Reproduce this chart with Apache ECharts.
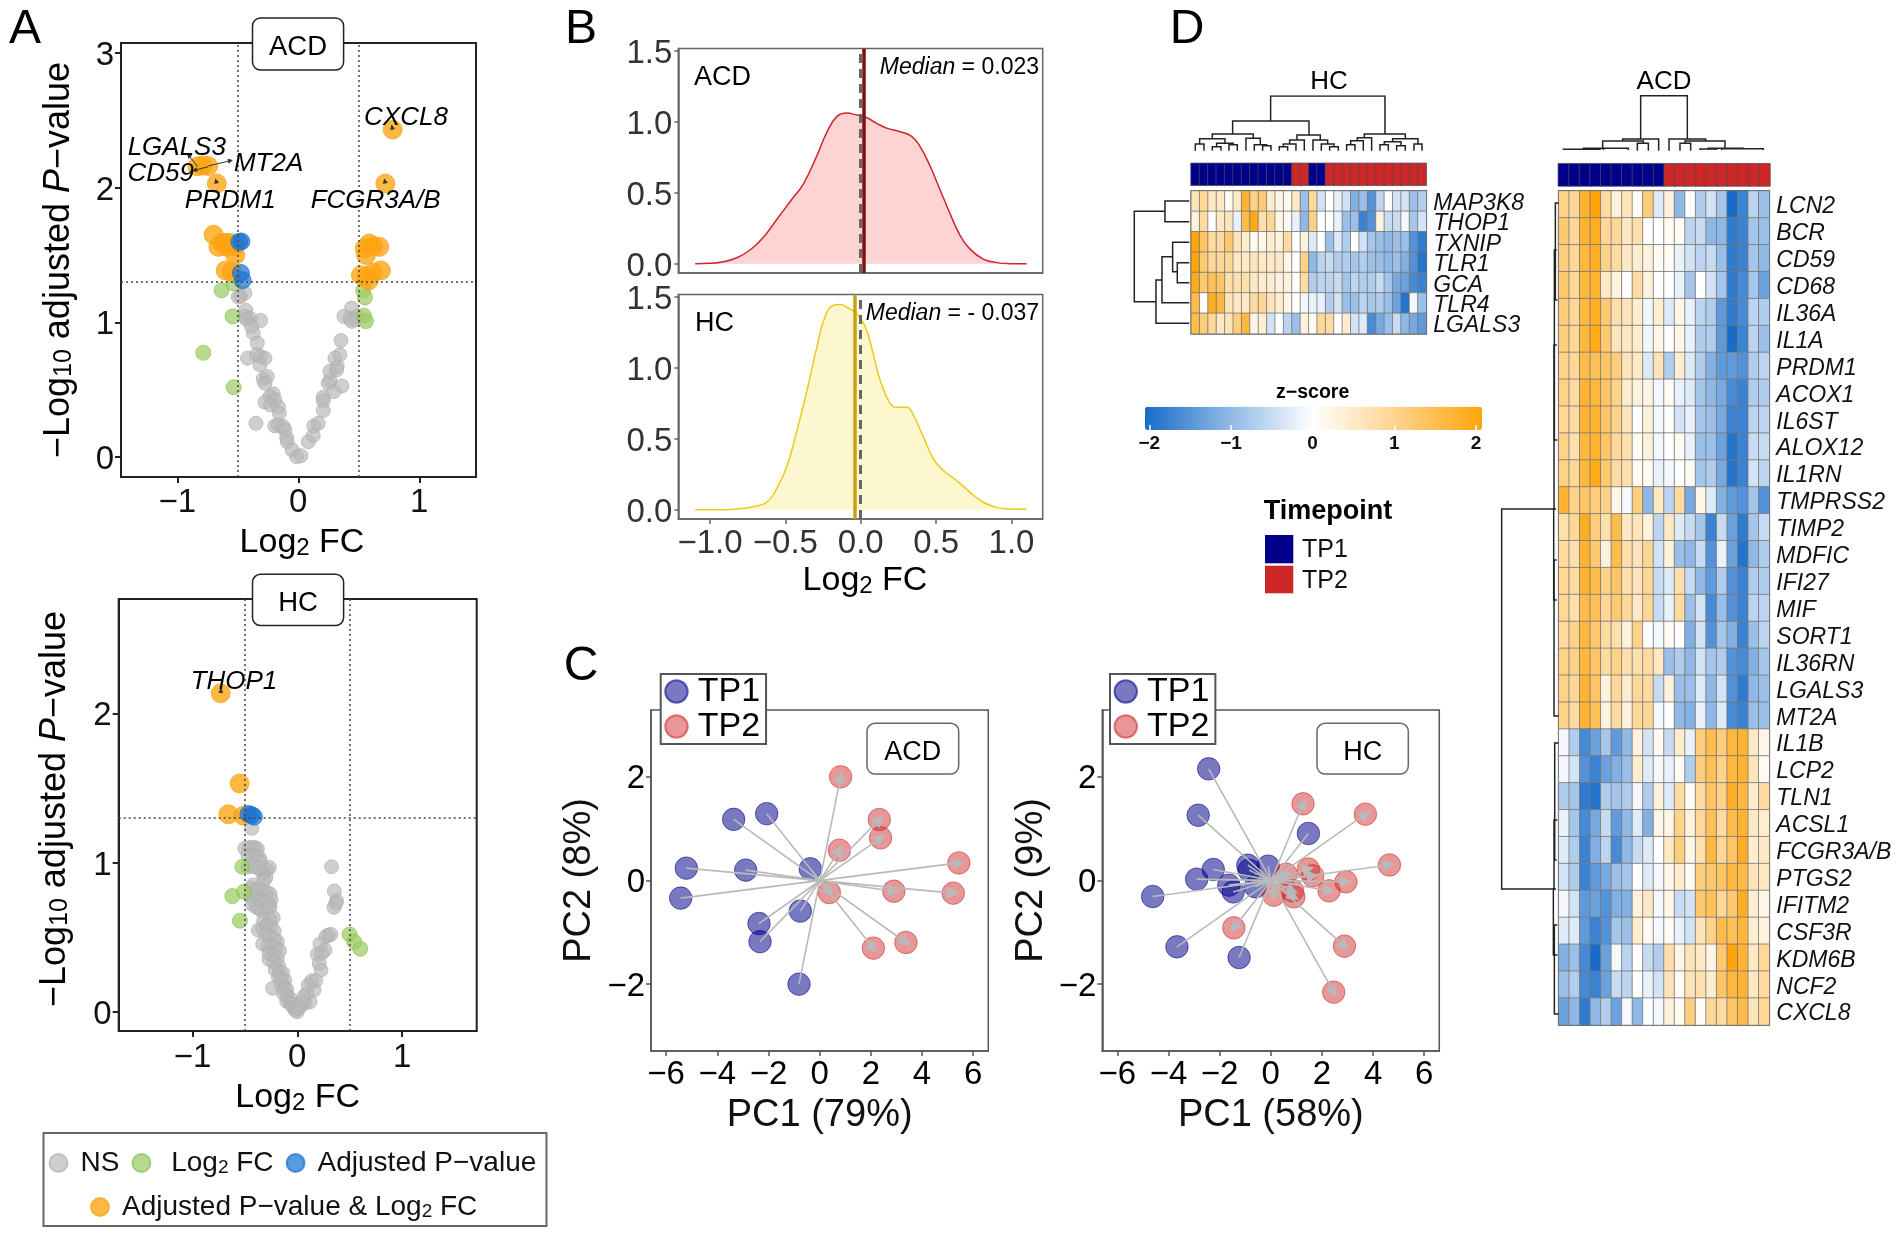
<!DOCTYPE html>
<html><head><meta charset="utf-8">
<style>html,body{margin:0;padding:0;background:#fff}#c{width:1902px;height:1239px}</style>
<script src="https://cdn.jsdelivr.net/npm/echarts@6/dist/echarts.min.js"></script>
</head><body><div id="c"></div>
<script>
// ---------- Panel A: volcano data [log2FC, -log10 adj P]
const a1Grey=[[-.477,1.193],[-.441,1.217],[-.496,1.188],[-.433,1.089],[-.40,1.03],[-.427,1.02],[-.44,1.044],[-.311,1.014],[-.372,.92],[-.386,.97],[-.339,.846],[-.419,.734],[-.344,.759],[-.311,.746],[-.275,.734],[-.317,.684],[-.289,.578],[-.256,.598],[-.275,.548],[-.207,.469],[-.234,.449],[-.275,.407],[-.229,.387],[-.193,.424],[-.165,.374],[-.157,.325],[-.193,.231],[-.165,.238],[-.124,.226],[-.11,.2],[-.096,.144],[-.091,.114],[-.05,.052],[-.014,.002],[.022,.01],[-.35,.25],[.083,.114],[.124,.159],[.129,.231],[.165,.25],[.207,.345],[.207,.417],[.207,.444],[.262,.568],[.248,.548],[.295,.486],[.361,.528],[.262,.635],[.317,.647],[.322,.672],[.303,.734],[.344,.759],[.353,.865],[.377,1.044],[.441,1.106],[.427,1.031],[.468,1.019],[.488,1.044],[.441,1.007]];
const a1Green=[[-.634,1.237],[-.537,1.29],[-.543,1.044],[-.785,.774],[-.534,.518],[.537,1.237],[.551,1.185],[.543,1.049],[.559,1.009]];
const a1Blue=[[-.488,1.597],[-.47,1.6],[-.474,1.366],[-.46,1.312]];
const a1Orange=[[.78,2.43],[.72,2.03],[-.673,2.03],[-.833,2.157],[-.745,2.16],[-.79,2.165],[-.70,1.65],[-.63,1.59],[-.66,1.56],[-.61,1.59],[-.565,1.59],[-.53,1.565],[-.52,1.50],[-.59,1.56],[-.60,1.385],[-.55,1.375],[.587,1.585],[.55,1.55],[.56,1.50],[.67,1.56],[.62,1.565],[.518,1.35],[.58,1.31],[.62,1.37],[.683,1.385],[.565,1.34]];
const a1Genes=[['CXCL8',.89,2.54],['LGALS3',-1.004,2.32],['CD59',-1.137,2.123],['MT2A',-.245,2.2],['PRDM1',-.563,1.924],['FCGR3A/B',.64,1.924]];
const a1Pointers=[[-.833,2.157,-.906,2.24],[-.745,2.16,-.56,2.2],[-.745,2.155,-.857,2.128],[.78,2.43,.775,2.45],[.72,2.03,.715,2.05],[-.673,2.03,-.68,2.05]];
const a2Grey=[[-.435,1.229],[.327,.972],[.353,.809],[.375,.744],[.35,.70],[.369,.726],[.296,.514],[.273,.503],[.321,.518],[.216,.454],[.264,.413],[.191,.384],[.232,.391],[.21,.324],[.226,.279],[.137,.206],[.175,.208],[.159,.145],[.121,.067],[.089,.123],[.073,.056],[.105,.179],[-.5,1.095],[-.46,1.1],[-.43,1.1],[-.40,1.1],[-.38,1.09],[-.47,1.05],[-.43,1.05],[-.39,1.04],[-.36,1.03],[-.35,1.0],[-.267,.967],[-.29,.95],[-.47,.97],[-.44,.98],[-.40,.97],[-.36,.96],[-.33,.93],[-.30,.90],[-.32,.88],[-.44,.83],[-.42,.85],[-.40,.82],[-.36,.82],[-.33,.81],[-.29,.80],[-.26,.79],[-.25,.75],[-.45,.78],[-.42,.75],[-.38,.76],[-.35,.74],[-.31,.73],[-.27,.72],[-.43,.72],[-.39,.70],[-.36,.69],[-.33,.67],[-.29,.68],[-.26,.70],[-.26,.62],[-.23,.63],[-.32,.61],[-.372,.547],[-.33,.56],[-.29,.58],[-.25,.57],[-.22,.54],[-.30,.52],[-.26,.50],[-.22,.49],[-.19,.47],[-.33,.454],[-.28,.44],[-.24,.44],[-.20,.43],[-.17,.41],[-.27,.39],[-.23,.38],[-.19,.36],[-.267,.35],[-.22,.33],[-.18,.31],[-.21,.28],[-.17,.27],[-.14,.26],[-.18,.23],[-.15,.22],[-.12,.21],[-.235,.157],[-.15,.17],[-.12,.16],[-.10,.15],[-.13,.12],[-.10,.11],[-.07,.09],[-.10,.07],[-.07,.06],[-.05,.05],[-.04,.03],[-.02,.01],[0,0],[.01,.02],[.03,.04],[.05,.07],[.06,.1]];
const a2Green=[[-.524,.972],[-.62,.775],[-.509,.804],[-.547,.61],[.499,.518],[.544,.467],[.601,.422]];
const a2Blue=[[-.467,1.325],[-.435,1.318],[-.413,1.307]];
const a2Orange=[[-.731,2.134],[-.55,1.53],[-.658,1.323],[-.515,1.314]];
const a2Genes=[['THOP1',-.604,2.234]];
const a2Pointers=[[-.731,2.134,-.728,2.155]];
const fcTicksA=[-1,0,1], padjTicks1=[0,1,2,3], padjTicks2=[0,1,2];
const fcCut=[-.5,.5], padjCut=1.3;
// ---------- Panel B: density
const acdDensity=[[-1.098,0],[-1,.003],[-.91,.014],[-.822,.042],[-.734,.097],[-.645,.187],[-.557,.312],[-.469,.437],[-.38,.563],[-.292,.758],[-.225,.925],[-.159,1.036],[-.093,1.061],[-.027,1.047],[.04,1.028],[.106,.989],[.172,.955],[.261,.93],[.338,.897],[.393,.827],[.46,.688],[.526,.521],[.592,.354],[.659,.2],[.725,.103],[.813,.033],[.902,.008],[.99,.001],[1.1,0]];
const hcDensity=[[-1.098,0],[-.955,0],[-.822,.006],[-.712,.022],[-.623,.053],[-.557,.15],[-.49,.304],[-.424,.554],[-.358,.833],[-.292,1.14],[-.236,1.362],[-.181,1.44],[-.137,1.446],[-.093,1.426],[-.027,1.382],[.029,1.292],[.073,1.139],[.128,.916],[.194,.749],[.239,.721],[.305,.721],[.349,.666],[.415,.513],[.482,.359],[.548,.276],[.636,.206],[.725,.123],[.813,.053],[.902,.017],[.99,.006],[1.1,.003]];
const acdMedian=.023, hcMedian=-.037;
const densTicksX=[-1,-.5,0,.5,1], densTicksY=[0,.5,1,1.5];
// ---------- Panel C: PCA
const pcaAcdTp1=[[-5.43,-.34],[-5.21,.238],[-3.36,1.18],[-2.07,1.29],[-2.89,.2],[-.365,.225],[-.755,-.59],[-2.37,-.83],[-2.33,-1.18],[-.807,-2]];
const pcaAcdTp2=[[5.44,.34],[5.22,-.244],[3.37,-1.196],[2.1,-1.305],[2.9,-.206],[.378,-.232],[.77,.585],[2.38,.823],[2.33,1.177],[.82,2]];
const pcaHcTp1=[[-2.43,2.154],[-2.84,1.26],[1.47,.907],[-2.25,.212],[-2.9,.026],[-4.62,-.309],[-3.67,-1.28],[-1.24,-1.486],[-.9,.296],[-.104,.277],[-1.64,-.09],[-1.47,-.22],[-.6,-.12],[-.85,.2]];
const pcaHcTp2=[[2.46,-2.154],[2.88,-1.267],[-1.445,-.913],[2.28,-.2],[2.94,-.026],[4.64,.30],[3.7,1.28],[1.26,1.48],[.9,-.315],[.117,-.283],[1.64,.09],[1.47,.22],[.6,.12],[.85,-.2]];
const pc1Ticks=[-6,-4,-2,0,2,4,6], pc2Ticks=[-2,0,2];
// ---------- Panel D: heatmaps
const hcGenes=['MAP3K8','THOP1','TXNIP','TLR1','GCA','TLR4','LGALS3'];
const hcZ=[
[.6,.9,.5,.5,.1,.5,1.7,1,1.2,.4,.2,.1,.5,-.9,.9,-.4,0,-.2,-.4,-1.1,-.9,-1.5,-.6,0,-.4,-.4,-.9,-.7],
[.3,.8,0,.5,.6,-.2,1.5,1.9,.7,.9,.2,.1,-.2,-1,1,0,0,-.2,-.9,-.9,-1.7,-1.5,.3,-.5,-.5,-.1,-.8,-.4],
[2,1.3,.8,.8,1.2,.6,.4,.1,.2,.4,.3,.8,0,.3,-.3,0,-.9,-.3,-.7,0,-.4,-.8,-.9,-1,-.9,-.9,-1.5,-1.8],
[2,1.2,.9,.9,.9,.5,.5,.6,.5,.5,.5,.2,0,1,-1,-.6,-.5,-.7,-.7,-.8,-.7,-.9,-.9,-1,-.9,-1.1,-1.5,-1.9],
[1.9,1.2,1.4,1.3,.7,.7,.7,.5,.4,.4,.3,.3,0,.8,-.7,-.6,-.6,-.5,-.8,-.6,-.7,-.7,-.5,-.8,-1.2,-1.3,-1.6,-1.7],
[1.5,.1,1.8,1.6,.6,.5,.5,.8,.9,.6,.4,.2,0,-.1,-.2,-.2,-.7,-.4,-.9,-.9,-.6,-.8,-.7,-.9,-1.3,-1.9,-.1,-.9],
[1.5,1.1,.9,.5,.6,1.1,1.6,.2,.4,-.4,0,-.6,-.9,.3,.1,.9,.8,0,.4,-.4,-.3,-1.6,-1.2,-.9,-.5,-1,-1.2,-1.4]];
const hcTimepoint=[1,1,1,1,1,1,1,1,1,1,1,1,2,2,1,1,2,2,2,2,2,2,2,2,2,2,2,2];
const acdGenes=['LCN2','BCR','CD59','CD68','IL36A','IL1A','PRDM1','ACOX1','IL6ST','ALOX12','IL1RN','TMPRSS2','TIMP2','MDFIC','IFI27','MIF','SORT1','IL36RN','LGALS3','MT2A','IL1B','LCP2','TLN1','ACSL1','FCGR3A/B','PTGS2','IFITM2','CSF3R','KDM6B','NCF2','CXCL8'];
const acdZ=[
[1,.9,1.7,2,.8,.3,.6,.1,1.1,-.3,.3,-1,0,-.7,-.4,-.8,-2,-1.7,-.6,-.9],
[1.2,.9,1.7,1.8,.9,.9,.5,.7,0,0,.1,.1,-.6,-.5,-1,-1,-1.8,-1.7,-.8,-.9],
[1.1,.9,1.6,1.8,1,.8,.5,.4,.3,.1,.1,-.2,-.4,-.6,-.5,-.9,-1.8,-1.7,-.8,-1],
[1.2,.9,1.6,1.7,.5,.3,0,.8,.3,0,0,-.2,-.8,0,-.4,-.8,-1.8,-1.6,-.8,-1.3],
[1.1,.9,1.6,1.8,1.2,.7,.6,.4,-.1,.4,-.3,.2,-.2,-.6,-.7,-1.4,-1.8,-1.6,-.6,-.7],
[1.1,.9,1.6,1.9,1.2,.6,.5,.4,-.1,.2,0,.2,-.2,-.7,-.7,-1.4,-2,-1.7,-.6,-.9],
[1,.9,1.5,1.4,1.3,1.1,.6,.5,-.3,.6,-.7,.4,-.3,-.7,-1.1,-1.4,-1.4,-1.5,-.7,-.6],
[1,.8,1.7,1.6,1.3,1,.4,.3,.2,-.1,.1,-.2,-.3,-.8,-1,-1.2,-1.6,-1.7,-.7,-.7],
[.9,.8,1.7,1.7,1.3,1,.6,0,.3,-.1,0,-.4,-.2,-.8,-.9,-1.2,-1.7,-1.7,-.6,-.6],
[1,.7,1.6,1.7,1.3,.9,.7,.1,.3,-.1,0,.1,-.2,-.9,-.9,-1.3,-1.9,-1.7,-.5,-.5],
[1,.9,1.6,1.9,1.2,.8,.7,.1,.1,-.2,-.1,0,.1,-.8,-.7,-1.2,-1.9,-1.7,-.4,-.6],
[1.7,1,1.3,1.1,1,.2,-.1,1.1,-1,.5,-.6,.8,-1.2,.2,-.3,-1.1,-1.4,-1.5,-.8,-1.5],
[.7,.9,1.8,1.1,.7,1.5,.5,.6,.3,-.6,.5,-.3,-.5,-.8,-1.7,-.5,-1.3,-1.8,-.8,-.5],
[.8,.7,1.7,1.2,.3,1.5,.7,.6,.9,-.4,.3,-.9,-1,-.5,-1.5,-.2,-1.3,-1.9,-1,-.7],
[.9,.8,1.7,1.5,1,1.3,.7,.6,.9,-.5,-.3,.7,-.5,-1,-1.4,-.7,-1.5,-1.7,-.7,-.7],
[.9,.7,1.5,1.4,.9,1.2,.9,.5,.9,-.5,-.2,.8,-.9,-.4,-1.6,-.9,-1.5,-1.7,-.6,-.6],
[.8,1,1.6,1.2,.8,.7,.3,1,0,-.1,.1,0,-1.1,-.4,-1.5,-.8,-1.1,-1.7,-.9,-.6],
[1,1,1.6,1.3,.8,1,.7,.7,.8,.5,-.9,-.7,-1,-.4,-.8,-.7,-1.5,-1.6,-1.1,-.8],
[1,.9,1.7,1.3,.3,.9,.4,.9,.8,-.5,.3,-.9,-.9,-.3,-1,-.4,-1.5,-1.8,-1,-.9],
[1,.8,1.7,1.4,.3,.8,.3,.9,.9,-.1,0,-1,-1.1,-.2,-1,-.3,-1.6,-1.7,-.9,-.9],
[-.1,-.7,-1.6,-1.3,-.8,-1.4,-1,.3,-.4,.1,-.5,.4,-.2,1.1,1.5,1.1,1.6,1.7,.5,.2],
[-.1,-.4,-1.5,-1.7,-1.3,-1.1,-.9,.4,-.3,-.1,-.2,.1,-.7,1.1,1.4,1,1.6,1.7,.6,.1],
[-.7,-.8,-1.8,-1.9,-.7,-.8,-.7,-.1,-.7,.3,-.3,.8,.1,.8,1.3,1,1.8,1.6,.4,.8],
[-.2,-.8,-1.6,-1.2,-.5,-1.4,-1,-.3,-1.1,.2,.2,1,.3,.9,1.4,.8,1.5,1.7,.5,.4],
[-.3,-.7,-1.7,-1.1,-.6,-1.6,-1,-.5,-.3,0,.5,1.1,.2,.7,1.6,.9,1.3,1.8,.4,.5],
[-.4,-.7,-1.7,-1.4,-1.2,-.9,-.8,0,-.3,-.1,.2,.4,.1,1.1,1.2,1.3,1.6,1.5,.6,.5],
[-.1,-.4,-1.4,-1.3,-1.5,-1.1,-1.1,.3,.5,-.1,.2,-.5,-.4,1.2,1.4,.9,1.2,1.8,.4,.2],
[-.3,-.3,-1.4,-1.7,-1.5,-.8,-.9,.4,.1,-.1,.1,-.2,-.4,.6,1,1.5,1.4,1.6,.4,.3],
[-1.1,-.9,-1.6,-2,-1.3,-.1,-.6,0,-.5,-.7,.7,.2,.6,.5,.2,1.2,2,1.7,.5,.9],
[-.9,-.7,-1.6,-1.7,-1.3,-.5,-.6,0,-.2,-.4,.6,.1,.6,.7,.4,1.3,1.6,1.7,.5,.8],
[-1.3,-1,-1.8,-1,-.7,-1.3,-.1,-1,0,-.1,.3,.1,1.1,.1,.9,.8,1.3,1.5,.6,.9]];
const acdTimepoint=[1,1,1,1,1,1,1,1,1,1,2,2,2,2,2,2,2,2,2,2];
// dendrogram merges: [posA, posB, top, bottomA, bottomB]
const hcColTree=[[452,795,288,363,402],[338,567,363,402,405],[277,400,402,416,415],[226,252,432,452,452],[277,303,440,452,452],[327,352,434,452,452],[290,340,430,440,434],[239,315,416,432,430],[428,453,437,452,452],[403,440,434,452,437],[378,421,415,452,434],[478,503,440,452,452],[490,528,432,440,452],[509,553,420,432,452],[629,655,440,452,452],[604,642,432,452,440],[579,623,420,452,432],[531,601,405,420,420],[680,705,434,452,452],[692,730,422,434,452],[712,755,413,422,452],[780,805,434,452,452],[830,856,437,452,452],[793,843,425,434,437],[882,906,432,452,452],[818,894,416,425,432],[733,856,402,413,416]];
const hcRowTree=[[634,905,43,135,108],[603,665,135,208,208],[840,970,108,126,208],[770,908,126,158,208],[727,815,158,208,172],[788,848,172,208,208]];
const acdColTree=[[422,562,107,237,237],[368,476,237,243,272],[308,430,243,265,250],[412,445,250,272,272],[507,617,237,272,243],[555,675,243,250,265],[540,572,250,272,272],[190,300,268,270,266],[250,310,265,270,268],[310,385,265,270,270],[600,650,267,270,270],[625,730,265,270,268],[665,790,266,270,270]];
const acdRowTree=[[509,889,5,160,160],[203,300,166,176,172],[250,440,163,170,172],[345,509,162,170,164],[509,600,161,168,170],[560,716,162,170,176],[743,860,164,176,170],[820,889,162,172,165],[889,955,160,168,172],[925,1014,163,172,176]];
const zTicks=[-2,-1,0,1,2];

const FONT='"Liberation Sans",Arial,sans-serif';
const minus=s=>String(s).replace('-','\u2212');
const grid=[],xAxis=[],yAxis=[],series=[],graphic=[];

function addGrid(g,x,y){grid.push(g);const i=grid.length-1;xAxis.push(Object.assign({gridIndex:i},x));yAxis.push(Object.assign({gridIndex:i},y));return i;}
const subRich=(fs,ss)=>({n:{fontSize:fs,color:'#000',fontFamily:FONT},s:{fontSize:ss,color:'#000',fontFamily:FONT,padding:[Math.round(fs*.3),0,0,0]},i:{fontSize:fs,color:'#000',fontFamily:FONT,fontStyle:'italic'}});
function contAxis(o){
  const lab={show:o.ticks!==false&&!o.noLabel,customValues:o.ticks||[],fontSize:o.fs,color:o.col,margin:o.margin,fontFamily:FONT};
  if(o.pad){lab.formatter=v=>'{a|'+minus(o.fmt?o.fmt(v):v)+'}';lab.rich={a:{fontSize:o.fs,color:o.col,fontFamily:FONT,padding:[o.pad,0,0,0]}};}
  else lab.formatter=v=>minus(o.fmt?o.fmt(v):v);
  return {type:'value',min:o.min,max:o.max,splitLine:{show:false},
    axisLine:{show:true,onZero:false,lineStyle:{color:o.line,width:o.lw}},
    axisTick:{show:o.ticks!==false,length:o.tl||6,customValues:o.ticks||[],lineStyle:{color:o.line,width:o.lw}},
    axisLabel:lab,
    name:o.name,nameLocation:'middle',nameGap:o.nameGap,nameMoveOverlap:false,nameTextStyle:o.nameStyle||{}};
}
// ---- Panel A
function volcano(rect,xr,yr,yt,grey,green,blue,orange,genes,pointers,yGap,xGap,xMargin,xShift,yShift){
  const i=addGrid(Object.assign({show:true,borderColor:'#222',borderWidth:2,backgroundColor:'transparent'},rect),
   contAxis({min:xr[0],max:xr[1],ticks:fcTicksA,line:'#222',lw:2,fs:33,col:'#111',margin:xMargin,name:'{n|Log}{s|2}{n| FC}',nameGap:xGap,nameStyle:{rich:subRich(34,24),padding:[0,0,0,xShift]}}),
   contAxis({min:yr[0],max:yr[1],ticks:yt,line:'#222',lw:2,fs:33,col:'#111',margin:7,pad:6,name:'{n|\u2212Log}{s|10}{n| adjusted }{i|P}{n|\u2212value}',nameGap:yGap,nameStyle:{rich:subRich(36,25),padding:[0,0,0,yShift]}}));
  const base={type:'scatter',xAxisIndex:i,yAxisIndex:i,silent:true};
  const sty=(c,b,o)=>({color:c,borderColor:b,borderWidth:1,opacity:o});
  series.push(Object.assign({},base,{name:'NS',data:grey,symbolSize:14,itemStyle:sty('#b8b8b8','#adadad',.68),z:2,
    markLine:{silent:true,symbol:'none',label:{show:false},animation:false,lineStyle:{color:'#444',type:[2,3],width:1.5},
      data:fcCut.map(v=>({xAxis:v})).concat([{yAxis:padjCut}])}}));
  series.push(Object.assign({},base,{name:'Log2 FC',data:green,symbolSize:15,itemStyle:sty('#9ccc65','#8cbf55',.72),z:3}));
  series.push(Object.assign({},base,{name:'Adjusted P\u2212value',data:blue,symbolSize:17,itemStyle:sty('#1a73d1','#1a73d1',.72),z:4}));
  series.push(Object.assign({},base,{name:'Adjusted P\u2212value & Log2 FC',data:orange,symbolSize:19,itemStyle:sty('#ffa40f','#f5a623',.78),z:3}));
  series.push({type:'lines',coordinateSystem:'cartesian2d',xAxisIndex:i,yAxisIndex:i,silent:true,symbol:['none','triangle'],symbolSize:5,z:6,
    lineStyle:{color:'#333',width:1,opacity:1},data:pointers.map(p=>({coords:[[p[0],p[1]],[p[2],p[3]]]}))});
  series.push({type:'scatter',name:'gene labels',xAxisIndex:i,yAxisIndex:i,silent:true,symbolSize:1,itemStyle:{color:'transparent'},z:7,
    label:{show:true,position:'inside',formatter:'{b}',offset:[0,3],fontSize:26,fontStyle:'italic',color:'#000',opacity:1,fontFamily:FONT},
    data:genes.map(g=>({name:g[0],value:[g[1],g[2]]}))});
}
volcano({left:121,top:43,width:355,height:434},[-1.465,1.469],[-.148,3.073],padjTicks1,a1Grey,a1Green,a1Blue,a1Orange,a1Genes,a1Pointers,44,49,9,7,0);
volcano({left:118.7,top:599,width:358,height:432},[-1.704,1.712],[-.129,2.766],padjTicks2,a2Grey,a2Green,a2Blue,a2Orange,a2Genes,a2Pointers,46,50,10,0,12);
// ---- Panel B
function density(rect,yr,d,lc,fc,med,medCol,showX){
  const i=addGrid(Object.assign({show:true,borderColor:'#666',borderWidth:1.5,backgroundColor:'transparent'},rect),
   contAxis({min:-1.21,max:1.207,ticks:showX?densTicksX:[],noLabel:!showX,line:'#666',lw:1.5,fs:33,col:'#333',margin:8,fmt:v=>v.toFixed(1),tl:5,
     name:showX?'{n|Log}{s|2}{n| FC}':'',nameGap:45,nameStyle:{rich:subRich(34,24),padding:[0,0,0,9]}}),
   contAxis({min:yr[0],max:yr[1],ticks:densTicksY,line:'#666',lw:1.5,fs:33,col:'#333',margin:6,pad:6,fmt:v=>v.toFixed(1),tl:4}));
  series.push({type:'line',xAxisIndex:i,yAxisIndex:i,data:d,smooth:.45,showSymbol:false,silent:true,lineStyle:{color:lc,width:1.5},areaStyle:{color:fc,opacity:1},z:2,
    markLine:{silent:true,symbol:'none',label:{show:false},animation:false,data:[
      {xAxis:0,lineStyle:{color:'#666',type:[9,6],width:3}},
      {xAxis:med,lineStyle:{color:medCol,type:'solid',width:3.5}}]}});
}
density({left:678.3,top:48.6,width:364.4,height:224.4},[-.065,1.515],acdDensity,'#d0242a','#fdd3d3',acdMedian,'#7b1315',false);
density({left:678.3,top:294.6,width:364.4,height:224.4},[-.065,1.515],hcDensity,'#f0c916','#fdf7cf',hcMedian,'#c5a414',true);
// ---- Panel C
function pca(rect,tp1,tp2,name,yGap){
  const i=addGrid(Object.assign({show:true,borderColor:'#555',borderWidth:1.5,backgroundColor:'transparent'},rect),
   contAxis({min:-6.59,max:6.59,ticks:pc1Ticks,line:'#555',lw:1.5,fs:33,col:'#000',margin:7,tl:5,name:name[0],nameGap:46,nameStyle:{fontSize:38,color:'#111',fontFamily:FONT,verticalAlign:'top'}}),
   contAxis({min:-3.29,max:3.29,ticks:pc2Ticks,line:'#555',lw:1.5,fs:33,col:'#000',margin:6,pad:5,tl:5,name:name[1],nameGap:yGap,nameStyle:{fontSize:38,color:'#111',fontFamily:FONT}}));
  const base={type:'scatter',xAxisIndex:i,yAxisIndex:i,silent:true,symbolSize:22.5};
  series.push(Object.assign({},base,{name:'TP1',data:tp1,itemStyle:{color:'rgba(0,0,139,.66)',borderColor:'rgba(0,0,139,.7)',borderWidth:1},z:2}));
  series.push(Object.assign({},base,{name:'TP2',data:tp2,itemStyle:{color:'rgba(205,38,38,.6)',borderColor:'rgba(205,38,38,.7)',borderWidth:1},z:2}));
  // arrows: each sample's TP1 point towards its TP2 point
  const pairs=tp1.map(p=>{let best=tp2[0],bd=1e9;tp2.forEach(q=>{const d=Math.hypot(p[0]+q[0],p[1]+q[1]);if(d<bd){bd=d;best=q;}});return [p,best];});
  series.push({type:'lines',coordinateSystem:'cartesian2d',xAxisIndex:i,yAxisIndex:i,silent:true,symbol:['none','triangle'],symbolSize:12,z:3,
    lineStyle:{color:'#b9b9b9',width:1.6,opacity:1},data:pairs.map(p=>({coords:[p[0],p[1]]}))});
}
pca({left:651,top:710,width:337.3,height:341},pcaAcdTp1,pcaAcdTp2,['PC1 (79%)','PC2 (8%)'],52);
pca({left:1102.3,top:710,width:337,height:341},pcaHcTp1,pcaHcTp2,['PC1 (58%)','PC2 (9%)'],52);
// ---- Panel D
const heatIdx=[],annoIdx=[];
function heat(rect,z,genes){
  const cols=z[0].map((_,j)=>j);
  const i=addGrid(Object.assign({show:true,borderColor:'#222',borderWidth:1.5,backgroundColor:'transparent'},rect),
   {type:'category',data:cols,show:false,boundaryGap:true},
   {type:'category',data:genes,inverse:true,position:'right',boundaryGap:true,axisLine:{show:false},axisTick:{show:false},
    axisLabel:{interval:0,margin:7,fontSize:23,fontFamily:FONT,formatter:'{a|{value}}',rich:{a:{fontSize:23,fontStyle:'italic',color:'#111',fontFamily:FONT,padding:[5,0,0,0]}}}});
  const data=[];z.forEach((r,y)=>r.forEach((v,x)=>data.push([x,y,v])));
  series.push({type:'heatmap',xAxisIndex:i,yAxisIndex:i,data,silent:true,itemStyle:{borderColor:'#777',borderWidth:.8},emphasis:{disabled:true},progressive:0});
  heatIdx.push(series.length-1);
}
function anno(rect,tp){
  const i=addGrid(Object.assign({show:false},rect),{type:'category',data:tp.map((_,j)=>j),show:false},{type:'category',data:['tp'],show:false});
  series.push({type:'heatmap',xAxisIndex:i,yAxisIndex:i,data:tp.map((v,x)=>[x,0,v]),silent:true,itemStyle:{borderColor:'#4a4a5a',borderWidth:.7},emphasis:{disabled:true},progressive:0});
  annoIdx.push(series.length-1);
}
function tree(rect,xr,yr,merges,horizontal){
  const i=addGrid(Object.assign({show:false},rect),{type:'value',min:xr[0],max:xr[1],show:false},{type:'value',min:yr[0],max:yr[1],inverse:true,show:false});
  const data=merges.map(m=>{const [a,b,t,ba,bb]=m;
    return {coords:horizontal?[[ba,a],[t,a],[t,b],[bb,b]]:[[a,ba],[a,t],[b,t],[b,bb]]};});
  series.push({type:'lines',coordinateSystem:'cartesian2d',polyline:true,xAxisIndex:i,yAxisIndex:i,silent:true,lineStyle:{color:'#222',width:1.5,opacity:1},data});
}
heat({left:1191.3,top:191,width:235,height:142.7},hcZ,hcGenes);
anno({left:1191,top:163.3,width:235.3,height:22},hcTimepoint);
tree({left:1191.3,top:96,width:235,height:54.7},[214,919],[288,452],hcColTree,false);
tree({left:1134.3,top:191,width:55,height:142.7},[43,208],[573,1001],hcRowTree,true);
heat({left:1558.7,top:191,width:210.6,height:834},acdZ,acdGenes);
anno({left:1558.3,top:163.7,width:211.7,height:22.3},acdTimepoint);
tree({left:1558.7,top:95.7,width:210.6,height:55},[176,808],[107,272],acdColTree,false);
tree({left:1500,top:191,width:58.7,height:834},[0,176],[191,1025],acdRowTree,true);
// colour bar axis
const cbI=addGrid({left:1145,top:406.7,width:337,height:23.3,show:false},
  {type:'value',min:-2.053,max:2.074,z:10,axisLine:{show:false},splitLine:{show:false},axisTick:{show:true,inside:true,length:5,customValues:zTicks,lineStyle:{color:'#fff',width:1.5}},
   axisLabel:{customValues:zTicks,fontSize:19,fontWeight:'bold',color:'#111',margin:4,fontFamily:FONT,formatter:v=>minus(v)}},
  {type:'value',min:0,max:1,show:false});
// text and decorations
const T=(x,y,text,fs,o)=>graphic.push({type:'text',x,y:y+2.5,z:20,silent:true,style:Object.assign({text,fontSize:fs,fontFamily:FONT,fill:'#000',align:'center',verticalAlign:'middle'},o||{})});
const chip=(x0,y0,x1,y1,text,fs,col)=>{graphic.push({type:'rect',z:19,silent:true,shape:{x:x0,y:y0,width:x1-x0,height:y1-y0,r:8},style:{fill:'#fff',stroke:col,lineWidth:1.5}});T((x0+x1)/2,(y0+y1)/2+1,text,fs);};
T(25,27,'A',48);T(581,27,'B',48);T(581,664,'C',48);T(1187,27,'D',48);
chip(252.5,18,343.6,70,'ACD',27.5,'#222');chip(252.5,574.3,343.6,625.5,'HC',27.5,'#222');
chip(867,723.3,958.7,774,'ACD',27,'#666');chip(1317,723.3,1408.3,774,'HC',27,'#666');
T(694,75,'ACD',27,{align:'left'});T(695,321,'HC',27,{align:'left'});
const medRich={i:{fontStyle:'italic',fontSize:23,fontFamily:FONT,fill:'#000'},n:{fontSize:23,fontFamily:FONT,fill:'#000'}};
T(1039,65,'{i|Median}{n| = 0.023}',23,{align:'right',rich:medRich});
T(1039,311.6,'{i|Median}{n| = - 0.037}',23,{align:'right',rich:medRich});
T(1329,79,'HC',26);T(1664,79,'ACD',26);
T(1312.7,390,'z\u2212score',19.5,{fontWeight:'bold'});
T(1328,509,'Timepoint',27,{fontWeight:'bold'});
graphic.push({type:'rect',silent:true,z:19,shape:{x:1265,y:535,width:28.3,height:28.3},style:{fill:'#00008b'}});
graphic.push({type:'rect',silent:true,z:19,shape:{x:1265,y:565.7,width:28.3,height:27.6},style:{fill:'#cd2626'}});
T(1302,548,'TP1',25,{align:'left',fill:'#111'});T(1302,579,'TP2',25,{align:'left',fill:'#111'});
graphic.push({type:'rect',silent:true,z:1,shape:{x:43.5,y:1133,width:503,height:93},style:{fill:'#fff',stroke:'#666',lineWidth:2}});

const legendText={fontSize:28,color:'#111',fontFamily:FONT,padding:[0,0,0,8],rich:{n:{fontSize:28,color:'#111',fontFamily:FONT},s:{fontSize:19,color:'#111',fontFamily:FONT,padding:[9,0,0,0]}}};
const fmtLegend=n=>n.replace('Log2 FC','{n|Log}{s|2}{n| FC}').replace(/^\{n\|Log/,'{n| Log').replace(/^Adjusted P\u2212value & /,'{n|Adjusted P\u2212value & }');
const pcaLegend=left=>({left,top:674,orient:'vertical',itemWidth:22.5,itemHeight:22.5,itemGap:0,padding:[0,6,0,3.5],backgroundColor:'#fff',borderColor:'#555',borderWidth:2,selectedMode:false,icon:'circle',data:['TP1','TP2'],textStyle:{fontSize:34,color:'#000',fontFamily:FONT,lineHeight:31,padding:[4,0,0,5]},z:20});
const legend=[
 {left:48.5,top:1149,itemWidth:18,itemHeight:18,itemGap:12,padding:0,selectedMode:false,icon:'circle',data:['NS','Log2 FC','Adjusted P\u2212value'],textStyle:legendText,formatter:fmtLegend,z:20},
 {left:90,top:1193,itemWidth:18,itemHeight:18,padding:0,selectedMode:false,icon:'circle',data:['Adjusted P\u2212value & Log2 FC'],textStyle:legendText,formatter:fmtLegend,z:20},
 pcaLegend(660.7),pcaLegend(1110)
];
const visualMap=[
 {type:'continuous',min:-2,max:2,dimension:2,seriesIndex:heatIdx,orient:'horizontal',left:1145,top:406.7,itemWidth:23.3,itemHeight:337,padding:0,calculable:false,text:null,showLabel:false,
  inRange:{color:['#176cc9','#8fb8e6','#ffffff','#ffd28a','#ffa50a']},textStyle:{color:'transparent',fontSize:1},realtime:false,hoverLink:false},
 {type:'piecewise',show:false,dimension:2,seriesIndex:annoIdx,pieces:[{value:1,color:'#00008b'},{value:2,color:'#cd2626'}]}
];
const chart=echarts.init(document.getElementById('c'),null,{renderer:'canvas'});
chart.setOption({animation:false,backgroundColor:'#fff',textStyle:{fontFamily:FONT},tooltip:{show:false},grid,xAxis,yAxis,series,graphic:{elements:graphic},legend,visualMap});
</script></body></html>
